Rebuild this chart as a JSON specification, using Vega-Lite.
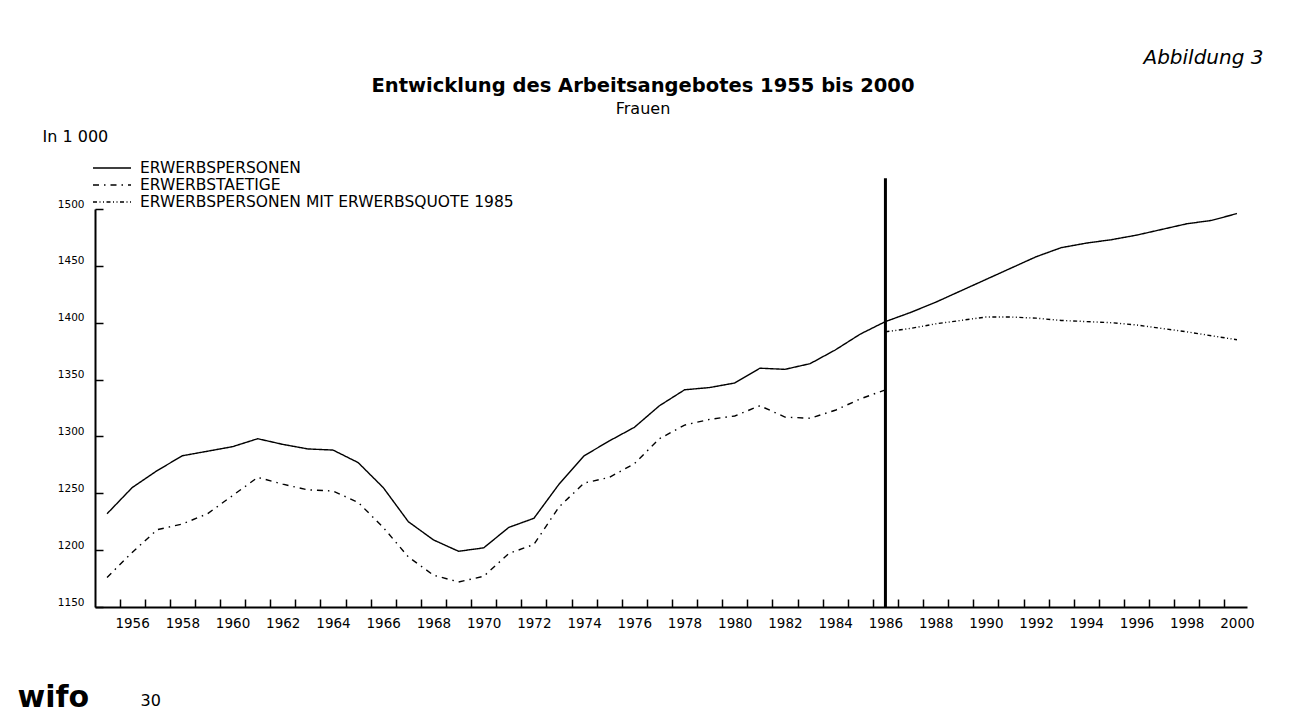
{
  "$schema": "https://vega.github.io/schema/vega-lite/v6.json",
  "width": 1152,
  "height": 398,
  "autosize": {"type": "none"},
  "padding": {"left": 95, "top": 209, "right": 43, "bottom": 110},
  "background": "white",
  "title": {
    "text": "Entwicklung des Arbeitsangebotes 1955 bis 2000",
    "subtitle": "Frauen",
    "anchor": "middle",
    "frame": "group",
    "dx": -28,
    "offset": -71,
    "font": "DejaVu Sans",
    "fontSize": 19.5,
    "fontWeight": "bold",
    "color": "black",
    "subtitleFont": "DejaVu Sans",
    "subtitleFontSize": 16,
    "subtitleColor": "black",
    "subtitlePadding": 5
  },
  "datasets": {
    "series": [
      {"year": 1955, "series": "ERWERBSPERSONEN", "value": 1232},
      {"year": 1956, "series": "ERWERBSPERSONEN", "value": 1255},
      {"year": 1957, "series": "ERWERBSPERSONEN", "value": 1270},
      {"year": 1958, "series": "ERWERBSPERSONEN", "value": 1283},
      {"year": 1959, "series": "ERWERBSPERSONEN", "value": 1287},
      {"year": 1960, "series": "ERWERBSPERSONEN", "value": 1291},
      {"year": 1961, "series": "ERWERBSPERSONEN", "value": 1298},
      {"year": 1962, "series": "ERWERBSPERSONEN", "value": 1293},
      {"year": 1963, "series": "ERWERBSPERSONEN", "value": 1289},
      {"year": 1964, "series": "ERWERBSPERSONEN", "value": 1288},
      {"year": 1965, "series": "ERWERBSPERSONEN", "value": 1277},
      {"year": 1966, "series": "ERWERBSPERSONEN", "value": 1255},
      {"year": 1967, "series": "ERWERBSPERSONEN", "value": 1225},
      {"year": 1968, "series": "ERWERBSPERSONEN", "value": 1209},
      {"year": 1969, "series": "ERWERBSPERSONEN", "value": 1199},
      {"year": 1970, "series": "ERWERBSPERSONEN", "value": 1202},
      {"year": 1971, "series": "ERWERBSPERSONEN", "value": 1220},
      {"year": 1972, "series": "ERWERBSPERSONEN", "value": 1228},
      {"year": 1973, "series": "ERWERBSPERSONEN", "value": 1258},
      {"year": 1974, "series": "ERWERBSPERSONEN", "value": 1283},
      {"year": 1975, "series": "ERWERBSPERSONEN", "value": 1296},
      {"year": 1976, "series": "ERWERBSPERSONEN", "value": 1308},
      {"year": 1977, "series": "ERWERBSPERSONEN", "value": 1327},
      {"year": 1978, "series": "ERWERBSPERSONEN", "value": 1341},
      {"year": 1979, "series": "ERWERBSPERSONEN", "value": 1343},
      {"year": 1980, "series": "ERWERBSPERSONEN", "value": 1347},
      {"year": 1981, "series": "ERWERBSPERSONEN", "value": 1360},
      {"year": 1982, "series": "ERWERBSPERSONEN", "value": 1359},
      {"year": 1983, "series": "ERWERBSPERSONEN", "value": 1364},
      {"year": 1984, "series": "ERWERBSPERSONEN", "value": 1376},
      {"year": 1985, "series": "ERWERBSPERSONEN", "value": 1390},
      {"year": 1986, "series": "ERWERBSPERSONEN", "value": 1401},
      {"year": 1987, "series": "ERWERBSPERSONEN", "value": 1409},
      {"year": 1988, "series": "ERWERBSPERSONEN", "value": 1418},
      {"year": 1989, "series": "ERWERBSPERSONEN", "value": 1428},
      {"year": 1990, "series": "ERWERBSPERSONEN", "value": 1438},
      {"year": 1991, "series": "ERWERBSPERSONEN", "value": 1448},
      {"year": 1992, "series": "ERWERBSPERSONEN", "value": 1458},
      {"year": 1993, "series": "ERWERBSPERSONEN", "value": 1466},
      {"year": 1994, "series": "ERWERBSPERSONEN", "value": 1470},
      {"year": 1995, "series": "ERWERBSPERSONEN", "value": 1473},
      {"year": 1996, "series": "ERWERBSPERSONEN", "value": 1477},
      {"year": 1997, "series": "ERWERBSPERSONEN", "value": 1482},
      {"year": 1998, "series": "ERWERBSPERSONEN", "value": 1487},
      {"year": 1999, "series": "ERWERBSPERSONEN", "value": 1490},
      {"year": 2000, "series": "ERWERBSPERSONEN", "value": 1496},
      {"year": 1955, "series": "ERWERBSTAETIGE", "value": 1176},
      {"year": 1956, "series": "ERWERBSTAETIGE", "value": 1198},
      {"year": 1957, "series": "ERWERBSTAETIGE", "value": 1218},
      {"year": 1958, "series": "ERWERBSTAETIGE", "value": 1223},
      {"year": 1959, "series": "ERWERBSTAETIGE", "value": 1232},
      {"year": 1960, "series": "ERWERBSTAETIGE", "value": 1248},
      {"year": 1961, "series": "ERWERBSTAETIGE", "value": 1264},
      {"year": 1962, "series": "ERWERBSTAETIGE", "value": 1258},
      {"year": 1963, "series": "ERWERBSTAETIGE", "value": 1253},
      {"year": 1964, "series": "ERWERBSTAETIGE", "value": 1252},
      {"year": 1965, "series": "ERWERBSTAETIGE", "value": 1242},
      {"year": 1966, "series": "ERWERBSTAETIGE", "value": 1220},
      {"year": 1967, "series": "ERWERBSTAETIGE", "value": 1194},
      {"year": 1968, "series": "ERWERBSTAETIGE", "value": 1178},
      {"year": 1969, "series": "ERWERBSTAETIGE", "value": 1172},
      {"year": 1970, "series": "ERWERBSTAETIGE", "value": 1177},
      {"year": 1971, "series": "ERWERBSTAETIGE", "value": 1197},
      {"year": 1972, "series": "ERWERBSTAETIGE", "value": 1205},
      {"year": 1973, "series": "ERWERBSTAETIGE", "value": 1238},
      {"year": 1974, "series": "ERWERBSTAETIGE", "value": 1259},
      {"year": 1975, "series": "ERWERBSTAETIGE", "value": 1264},
      {"year": 1976, "series": "ERWERBSTAETIGE", "value": 1276},
      {"year": 1977, "series": "ERWERBSTAETIGE", "value": 1298},
      {"year": 1978, "series": "ERWERBSTAETIGE", "value": 1310},
      {"year": 1979, "series": "ERWERBSTAETIGE", "value": 1315},
      {"year": 1980, "series": "ERWERBSTAETIGE", "value": 1318},
      {"year": 1981, "series": "ERWERBSTAETIGE", "value": 1327},
      {"year": 1982, "series": "ERWERBSTAETIGE", "value": 1317},
      {"year": 1983, "series": "ERWERBSTAETIGE", "value": 1316},
      {"year": 1984, "series": "ERWERBSTAETIGE", "value": 1323},
      {"year": 1985, "series": "ERWERBSTAETIGE", "value": 1333},
      {"year": 1986, "series": "ERWERBSTAETIGE", "value": 1341},
      {"year": 1986, "series": "ERWERBSPERSONEN MIT ERWERBSQUOTE 1985", "value": 1392},
      {"year": 1987, "series": "ERWERBSPERSONEN MIT ERWERBSQUOTE 1985", "value": 1395},
      {"year": 1988, "series": "ERWERBSPERSONEN MIT ERWERBSQUOTE 1985", "value": 1399},
      {"year": 1989, "series": "ERWERBSPERSONEN MIT ERWERBSQUOTE 1985", "value": 1402},
      {"year": 1990, "series": "ERWERBSPERSONEN MIT ERWERBSQUOTE 1985", "value": 1405},
      {"year": 1991, "series": "ERWERBSPERSONEN MIT ERWERBSQUOTE 1985", "value": 1405},
      {"year": 1992, "series": "ERWERBSPERSONEN MIT ERWERBSQUOTE 1985", "value": 1404},
      {"year": 1993, "series": "ERWERBSPERSONEN MIT ERWERBSQUOTE 1985", "value": 1402},
      {"year": 1994, "series": "ERWERBSPERSONEN MIT ERWERBSQUOTE 1985", "value": 1401},
      {"year": 1995, "series": "ERWERBSPERSONEN MIT ERWERBSQUOTE 1985", "value": 1400},
      {"year": 1996, "series": "ERWERBSPERSONEN MIT ERWERBSQUOTE 1985", "value": 1398},
      {"year": 1997, "series": "ERWERBSPERSONEN MIT ERWERBSQUOTE 1985", "value": 1395},
      {"year": 1998, "series": "ERWERBSPERSONEN MIT ERWERBSQUOTE 1985", "value": 1392},
      {"year": 1999, "series": "ERWERBSPERSONEN MIT ERWERBSQUOTE 1985", "value": 1388.5},
      {"year": 2000, "series": "ERWERBSPERSONEN MIT ERWERBSQUOTE 1985", "value": 1385}
    ],
    "cut": [
      {"year": 1986, "lo": 1150, "hi": 1527}
    ]
  },
  "layer": [
    {
      "data": {"name": "series"},
      "mark": {"type": "line", "color": "black", "strokeWidth": 1.4},
      "encoding": {
        "x": {
          "field": "year",
          "type": "quantitative",
          "scale": {"domain": [1954.52, 2000.4], "nice": false, "zero": false},
          "axis": {
            "orient": "bottom",
            "values": [1955.5, 1956.5, 1957.5, 1958.5, 1959.5, 1960.5, 1961.5, 1962.5, 1963.5, 1964.5, 1965.5, 1966.5, 1967.5, 1968.5, 1969.5, 1970.5, 1971.5, 1972.5, 1973.5, 1974.5, 1975.5, 1976.5, 1977.5, 1978.5, 1979.5, 1980.5, 1981.5, 1982.5, 1983.5, 1984.5, 1985.5, 1986.5, 1987.5, 1988.5, 1989.5, 1990.5, 1991.5, 1992.5, 1993.5, 1994.5, 1995.5, 1996.5, 1997.5, 1998.5, 1999.5],
            "labelExpr": "(datum.value + 0.5) % 2 == 0 ? format(datum.value + 0.5, 'd') : ''",
            "labelOffset": 12.5,
            "tickSize": -8,
            "labelPadding": 17,
            "labelOverlap": false,
            "labelFlush": false,
            "labelFontSize": 13.5,
            "grid": false,
            "title": "Abbildung 3",
            "titleX": 1168,
            "titleY": -544,
            "titleAlign": "right",
            "titleBaseline": "alphabetic",
            "titleFontStyle": "italic",
            "titleFontWeight": "normal",
            "titleFontSize": 20
          }
        },
        "y": {
          "field": "value",
          "type": "quantitative",
          "scale": {"domain": [1150, 1500], "nice": false, "zero": false},
          "axis": {
            "orient": "left",
            "values": [1150, 1200, 1250, 1300, 1350, 1400, 1450, 1500],
            "format": "d",
            "tickSize": -8,
            "labelPadding": 19,
            "labelOffset": -5,
            "labelFontSize": 10.5,
            "grid": false,
            "title": "In 1 000",
            "titleAngle": 0,
            "titleX": -53,
            "titleY": -68,
            "titleAlign": "left",
            "titleBaseline": "alphabetic",
            "titleFontWeight": "normal",
            "titleFontSize": 16
          }
        },
        "strokeDash": {
          "field": "series",
          "type": "nominal",
          "scale": {
            "domain": ["ERWERBSPERSONEN", "ERWERBSTAETIGE", "ERWERBSPERSONEN MIT ERWERBSQUOTE 1985"],
            "range": [[1, 0], [6, 5, 1.5, 5], [4, 2.5, 1, 2.5, 1, 2.5]]
          },
          "legend": {
            "orient": "none",
            "legendX": -3,
            "legendY": -49,
            "title": null,
            "symbolType": "stroke",
            "symbolSize": 1444,
            "symbolStrokeColor": "black",
            "symbolStrokeWidth": 1.3,
            "clipHeight": 16,
            "labelFont": "DejaVu Sans",
            "labelFontSize": 15.5,
            "labelColor": "black",
            "labelOffset": 8,
            "labelLimit": 0,
            "rowPadding": 0,
            "padding": 0
          }
        }
      }
    },
    {
      "data": {"name": "cut"},
      "mark": {"type": "rule", "color": "black", "strokeWidth": 3},
      "encoding": {
        "x": {
          "field": "year",
          "type": "quantitative",
          "scale": {"domain": [1954.52, 2000.4], "nice": false, "zero": false},
          "axis": {
            "orient": "top",
            "domain": false,
            "ticks": false,
            "labels": false,
            "grid": false,
            "title": "wifo",
            "titleX": -78,
            "titleY": 497,
            "titleAlign": "left",
            "titleBaseline": "alphabetic",
            "titleFontSize": 30,
            "titleFontWeight": "bold"
          }
        },
        "y": {
          "field": "lo",
          "type": "quantitative",
          "scale": {"domain": [1150, 1500], "nice": false, "zero": false},
          "axis": {
            "orient": "right",
            "domain": false,
            "ticks": false,
            "labels": false,
            "grid": false,
            "title": "30",
            "titleAngle": 0,
            "titleX": -1107,
            "titleY": 496,
            "titleAlign": "left",
            "titleBaseline": "alphabetic",
            "titleFontSize": 16,
            "titleFontWeight": "normal"
          }
        },
        "y2": {"field": "hi"}
      }
    }
  ],
  "resolve": {"axis": {"x": "independent", "y": "independent"}},
  "config": {
    "view": {"stroke": null},
    "font": "DejaVu Sans",
    "axis": {
      "domainColor": "black",
      "domainWidth": 2,
      "tickColor": "black",
      "tickWidth": 1.5,
      "labelColor": "black",
      "titleColor": "black",
      "labelFont": "DejaVu Sans",
      "titleFont": "DejaVu Sans"
    }
  }
}
